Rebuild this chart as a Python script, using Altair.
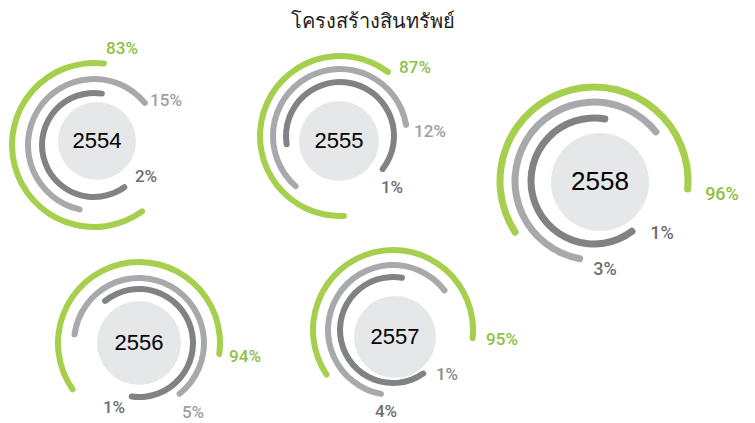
import math
import altair as alt
import pandas as pd

# ---- data values ----
years = ["2554", "2555", "2556", "2557", "2558"]
series_names = ["green", "light", "dark"]
pct_green = [83, 87, 94, 95, 96]
pct_light = [15, 12, 5, 4, 3]
pct_dark = [2, 1, 1, 1, 1]
title_text = "โครงสร้างสินทรัพย์"

# ---- layout (page pixel coordinates) ----
M = 8  # page margin
arc_cx = [94, 340, 139, 393, 594]
arc_cy = [145, 136, 343, 330, 181]
circ_cx = [97, 339, 139, 395, 600]
circ_cy = [141, 141, 343, 337, 182]
circ_r = [39, 40, 42, 41, 49]
year_size = [22, 22, 22, 22, 26]
thick = [6, 6, 6, 6, 7]
radii = [  # green, light, dark (centre-line radius)
    [82, 66, 52],
    [80, 67, 54],
    [81, 65, 54],
    [80, 65, 53],
    [94, 79, 63],
]
angles = [  # (start, end) in degrees clockwise from 12 o'clock
    [(142, 369), (190, 413), (141, 372)],
    [(175, 399), (219, 443), (258, 491)],
    [(233, 460), (275, 504), (318, 551)],
    [(234, 458), (188, 415), (142, 373)],
    [(235, 457), (188, 414), (140, 373)],
]
label_pos = [  # green, light, dark label centres
    [(122, 49), (166, 101), (146, 177)],
    [(415, 68), (430, 132), (392, 188)],
    [(245, 357), (193, 413), (114, 408)],
    [(502, 340), (386, 412), (447, 375)],
    [(722, 195), (605, 270), (662, 234)],
]
label_size = [17, 17, 17, 17, 18]

# ---- styles ----
arc_colors = ["#a5cf4c", "#a7a9ac", "#808285"]
label_color_grid = [  # green, light, dark label colours per group
    ["#8dc043", "#9d9fa2", "#6d6e71"],
    ["#8dc043", "#9d9fa2", "#6d6e71"],
    ["#8dc043", "#9d9fa2", "#6d6e71"],
    ["#8dc043", "#6d6e71", "#8a8c8f"],
    ["#8dc043", "#6d6e71", "#6d6e71"],
]

rows = []
labels = []
circles = []
for i, yr in enumerate(years):
    vals = [pct_green[i], pct_light[i], pct_dark[i]]
    for j, s in enumerate(series_names):
        r = radii[i][j]
        t = thick[i] / 2
        a0, a1 = angles[i][j]
        rows.append({
            "year": yr, "series": s,
            "x": arc_cx[i] - M, "y": arc_cy[i] - M,
            "ro": r + t, "ri": r - t,
            "t0": math.radians(a0), "t1": math.radians(a1),
        })
        lx, ly = label_pos[i][j]
        labels.append({
            "year": yr, "series": s, "text": f"{vals[j]}%",
            "x": lx - M, "y": ly - M, "size": label_size[i],
            "col": label_color_grid[i][j],
        })
    circles.append({
        "year": yr, "x": circ_cx[i] - M, "y": circ_cy[i] - M,
        "r": circ_r[i], "t0": 0.0, "t1": 2 * math.pi, "size": year_size[i],
    })

arcs_df = pd.DataFrame(rows)
labels_df = pd.DataFrame(labels)
circ_df = pd.DataFrame(circles)

W, H = 739, 413

color_scale = alt.Scale(domain=series_names, range=arc_colors)

circ_layer = alt.Chart(circ_df).mark_arc(color="#e6e7e8").encode(
    x=alt.X("x:Q", scale=None, axis=None),
    y=alt.Y("y:Q", scale=None, axis=None),
    theta=alt.Theta("t0:Q", scale=None),
    theta2="t1:Q",
    radius=alt.Radius("r:Q", scale=None),
)

year_layer = alt.Chart(circ_df).mark_text(
    font="Liberation Sans", color="#000000", align="center", baseline="middle"
).encode(
    x=alt.X("x:Q", scale=None, axis=None),
    y=alt.Y("y:Q", scale=None, axis=None),
    text="year:N",
    size=alt.Size("size:Q", scale=None, legend=None),
)

arc_layer = alt.Chart(arcs_df).mark_arc(cornerRadius=3).encode(
    x=alt.X("x:Q", scale=None, axis=None),
    y=alt.Y("y:Q", scale=None, axis=None),
    theta=alt.Theta("t0:Q", scale=None),
    theta2="t1:Q",
    radius=alt.Radius("ro:Q", scale=None),
    radius2="ri:Q",
    color=alt.Color("series:N", scale=color_scale, legend=None),
)

label_layer = alt.Chart(labels_df).mark_text(
    font="Roboto", fontWeight=500, align="center", baseline="middle"
).encode(
    x=alt.X("x:Q", scale=None, axis=None),
    y=alt.Y("y:Q", scale=None, axis=None),
    text="text:N",
    color=alt.Color("col:N", scale=None, legend=None),
    size=alt.Size("size:Q", scale=None, legend=None),
)

title_df = pd.DataFrame([{"t": title_text, "x": 373 - M, "y": 22 - M}])
title_layer = alt.Chart(title_df).mark_text(
    fontSize=20, color="#231f20", align="center", baseline="middle",
    font="Noto Sans, sans-serif"
).encode(
    x=alt.X("x:Q", scale=None, axis=None),
    y=alt.Y("y:Q", scale=None, axis=None),
    text="t:N",
)

chart = alt.layer(
    circ_layer, arc_layer, year_layer, label_layer, title_layer
).properties(
    width=W, height=H, padding=0, autosize=alt.AutoSizeParams(type="none")
).configure_view(stroke=None)

chart.save("out.html", embed_options={"renderer": "svg", "actions": False})
